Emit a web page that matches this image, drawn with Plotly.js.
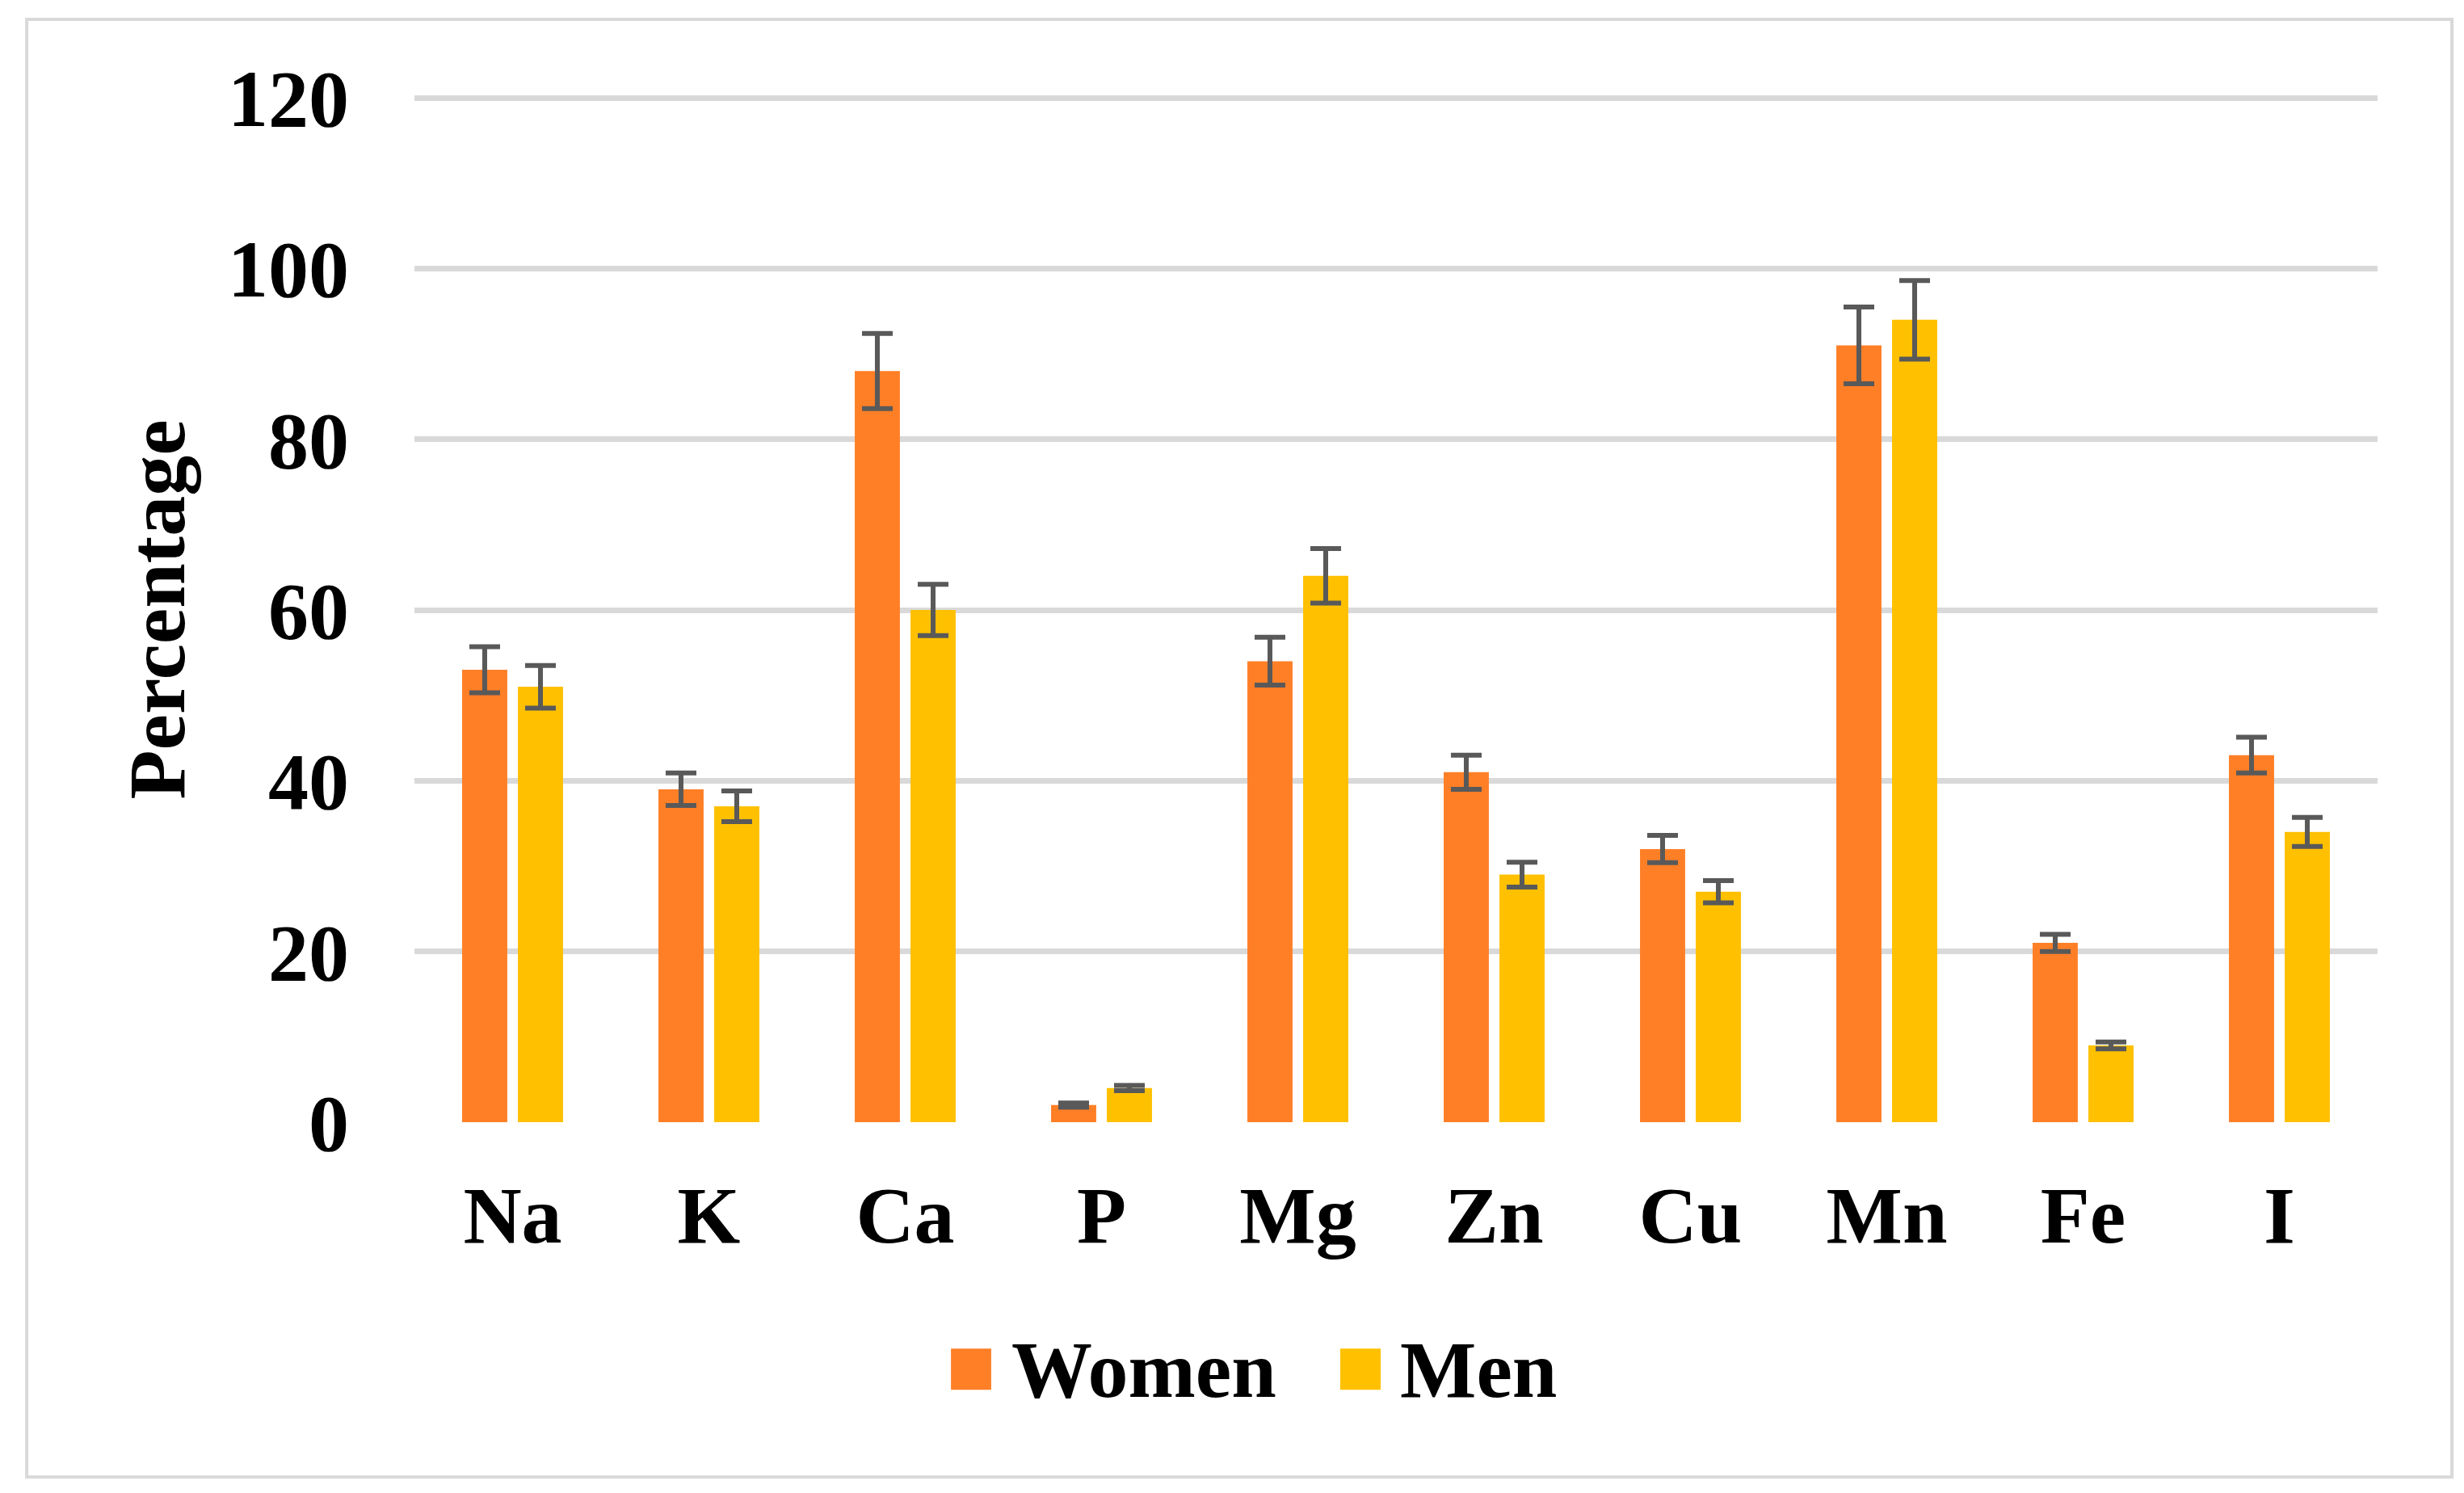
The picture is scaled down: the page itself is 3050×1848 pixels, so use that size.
<!DOCTYPE html>
<html>
<head>
<meta charset="utf-8">
<script src="https://cdn.plot.ly/plotly-3.0.1.min.js"></script>
<style>
  html, body { margin: 0; padding: 0; background: #ffffff; }
  #chart { width: 3050px; height: 1848px; }
</style>
</head>
<body>
<div id="chart"></div>
<script>
// ---- data ----
const categories = ["Na", "K", "Ca", "P", "Mg", "Zn", "Cu", "Mn", "Fe", "I"];
const seriesNames = ["Women", "Men"];
const seriesColors = ["#FF7F27", "#FFC000"];
const women = [53, 39, 88, 2, 54, 41, 32, 91, 21, 43];
const men = [51, 37, 60, 4, 64, 29, 27, 94, 9, 34];
const womenErr = [2.7, 1.9, 4.4, 0.25, 2.8, 2.0, 1.6, 4.5, 1.0, 2.1];
const menErr = [2.5, 1.8, 3.0, 0.3, 3.2, 1.45, 1.3, 4.6, 0.4, 1.7];
const yTicks = [0, 20, 40, 60, 80, 100, 120];
const yTitle = "Percentage";

const FONT = "Liberation Serif, Times New Roman, serif";
const errStyle = { type: "data", visible: true, color: "#595959", thickness: 6, width: 19 };

const traces = [
  { type: "bar", name: seriesNames[0], x: categories, y: women,
    marker: { color: seriesColors[0] },
    error_y: Object.assign({ array: womenErr }, errStyle), showlegend: false },
  { type: "bar", name: seriesNames[1], x: categories, y: men,
    marker: { color: seriesColors[1] },
    error_y: Object.assign({ array: menErr }, errStyle), showlegend: false }
];

// custom legend (large squares + text), placed in paper coords
const legendSquares = [[0.2733, 0.2938], [0.4716, 0.4922]];
const legendTextX = [0.3033, 0.5012];
const shapes = [
  { type: "rect", xref: "paper", yref: "paper", x0: -0.1975, x1: 1.0379, y0: -0.3462, y1: 1.0757,
    line: { color: "#d9d9d9", width: 4 }, fillcolor: "rgba(0,0,0,0)", layer: "below" }
];
const annotations = [];
seriesNames.forEach((n, i) => {
  shapes.push({ type: "rect", xref: "paper", yref: "paper",
    x0: legendSquares[i][0], x1: legendSquares[i][1], y0: -0.2610, y1: -0.2208,
    line: { width: 0 }, fillcolor: seriesColors[i] });
  annotations.push({ xref: "paper", yref: "paper", x: legendTextX[i], y: -0.2413,
    xanchor: "left", yanchor: "middle", showarrow: false, text: "<b>" + n + "</b>",
    font: { family: FONT, size: 100, color: "#000000" } });
});

const layout = {
  width: 3050, height: 1848,
  paper_bgcolor: "#ffffff", plot_bgcolor: "#ffffff",
  margin: { l: 513, r: 107, t: 120, b: 459, pad: 0 },
  barmode: "group", bargap: 0.432, bargroupgap: 0.19,
  font: { family: FONT, size: 100, color: "#000000" },
  xaxis: {
    type: "category", showgrid: false, showline: false, zeroline: false, ticks: "",
    tickfont: { family: FONT, size: 100, color: "#000000", weight: "bold" },
    ticklabelstandoff: 48
  },
  yaxis: {
    range: [0, 120.1], tickvals: yTicks, ticktext: yTicks.map(String),
    showgrid: true, gridcolor: "#d9d9d9", gridwidth: 7,
    zeroline: false, showline: false, ticks: "",
    tickfont: { family: FONT, size: 100, color: "#000000", weight: "bold" },
    ticklabelstandoff: 80,
    title: { text: "<b>" + yTitle + "</b>", font: { family: FONT, size: 100, color: "#000000" }, standoff: 20 }
  },
  shapes: shapes,
  annotations: annotations,
  showlegend: false
};

Plotly.newPlot("chart", traces, layout, { staticPlot: true, displayModeBar: false });
</script>
</body>
</html>
